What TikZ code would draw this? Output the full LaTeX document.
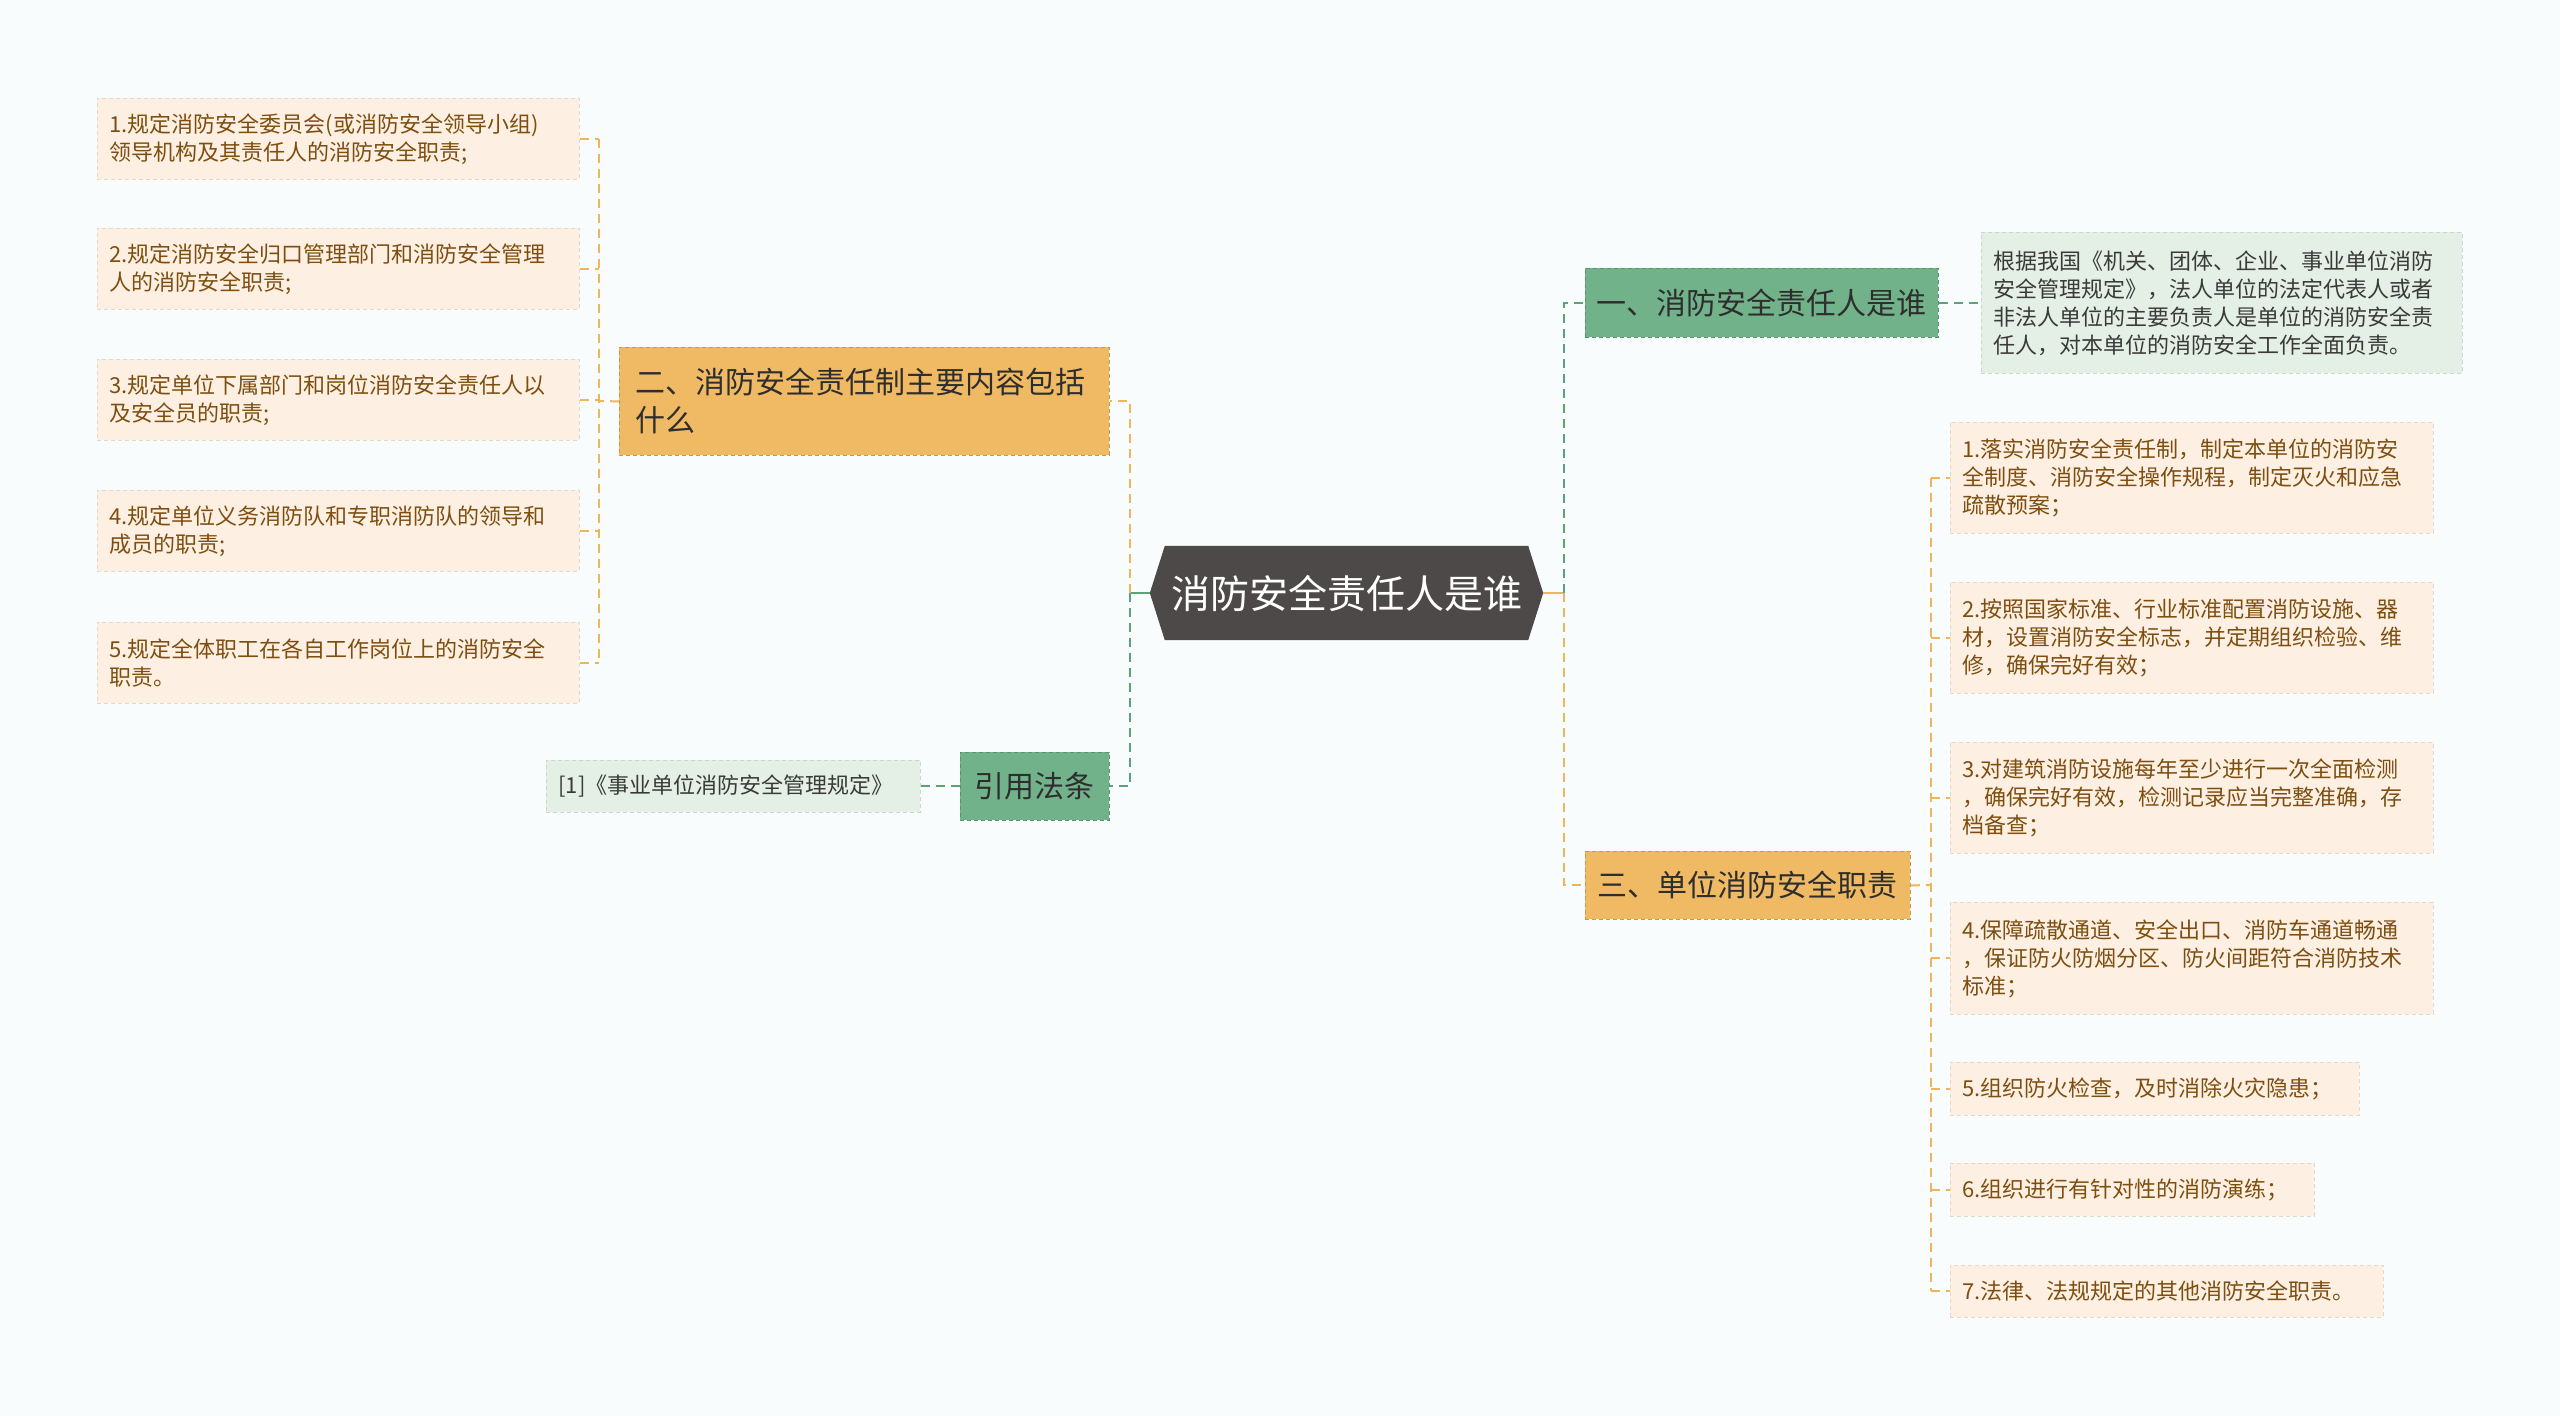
\documentclass[tikz,border=0pt]{standalone}
\usepackage{fontspec}
\setmainfont{Noto Sans CJK SC}
\usepackage{tikz}
\usetikzlibrary{backgrounds}

\definecolor{pagebg}{HTML}{F8FCFD}
\definecolor{hexgray}{HTML}{4E4949}
\definecolor{topicorange}{HTML}{EFBA63}
\definecolor{topicgreen}{HTML}{72B28A}
\definecolor{topictext}{HTML}{2E2E2E}
\definecolor{leafpeach}{HTML}{FDF0E2}
\definecolor{leafgreen}{HTML}{E4EFE6}
\definecolor{leafbrown}{HTML}{7D4E10}
\definecolor{leafgray}{HTML}{3A3A3A}
\definecolor{linkorange}{HTML}{EDB55C}
\definecolor{linkgreen}{HTML}{5EA279}

\begin{document}
\begin{tikzpicture}[x=1pt, y=-1pt,
  topic/.style={fill=#1, draw=#1!82!black, dash pattern=on 4pt off 3pt, line width=0.8pt,
    text=topictext, font=\fontsize{30}{38}\selectfont, inner sep=0pt, anchor=north west},
  leaf/.style={fill=#1, draw=#1!90!black, dash pattern=on 4pt off 3pt, line width=0.8pt,
    text=leafbrown, font=\fontsize{22}{28}\selectfont, align=left,
    inner xsep=12pt, inner ysep=0pt, anchor=north west},
  link/.style={draw=#1, line width=2pt, dash pattern=on 9pt off 6pt}
]
\useasboundingbox (0,0) rectangle (2560,1416);

\node[text=white, font=\fontsize{39}{44}\selectfont, minimum width=363, minimum height=94, inner sep=0pt]
  (root) at (1346.5,593) {消防安全责任人是谁};

% left side
\node[topic=topicorange, text width=458, align=left, inner xsep=16pt, minimum height=108]
  (b2) at (619,347) {二、消防安全责任制主要内容包括\\什么};
\node[topic=topicgreen, minimum width=149, minimum height=68] (cite) at (960,752) {引用法条};
\node[leaf=leafgreen, text=leafgray, text width=350, minimum height=52] (ref) at (546,760)
  {[1]《事业单位消防安全管理规定》};

\node[leaf=leafpeach, text width=458, minimum height=81] (l1) at (97,98)
  {1.规定消防安全委员会(或消防安全领导小组)\\领导机构及其责任人的消防安全职责;};
\node[leaf=leafpeach, text width=458, minimum height=81] (l2) at (97,228)
  {2.规定消防安全归口管理部门和消防安全管理\\人的消防安全职责;};
\node[leaf=leafpeach, text width=458, minimum height=81] (l3) at (97,359)
  {3.规定单位下属部门和岗位消防安全责任人以\\及安全员的职责;};
\node[leaf=leafpeach, text width=458, minimum height=81] (l4) at (97,490)
  {4.规定单位义务消防队和专职消防队的领导和\\成员的职责;};
\node[leaf=leafpeach, text width=458, minimum height=81] (l5) at (97,622)
  {5.规定全体职工在各自工作岗位上的消防安全\\职责。};

% right side
\node[topic=topicgreen, minimum width=353, minimum height=69] (b1) at (1585,268) {一、消防安全责任人是谁};
\node[topic=topicorange, minimum width=325, minimum height=68] (b3) at (1585,851) {三、单位消防安全职责};
\node[leaf=leafgreen, text=leafgray, text width=457, minimum height=141] (g1) at (1981,232)
  {根据我国《机关、团体、企业、事业单位消防\\安全管理规定》，法人单位的法定代表人或者\\非法人单位的主要负责人是单位的消防安全责\\任人，对本单位的消防安全工作全面负责。};

\node[leaf=leafpeach, text width=459, minimum height=111] (r1) at (1950,422)
  {1.落实消防安全责任制，制定本单位的消防安\\全制度、消防安全操作规程，制定灭火和应急\\疏散预案；};
\node[leaf=leafpeach, text width=459, minimum height=111] (r2) at (1950,582)
  {2.按照国家标准、行业标准配置消防设施、器\\材，设置消防安全标志，并定期组织检验、维\\修，确保完好有效；};
\node[leaf=leafpeach, text width=459, minimum height=111] (r3) at (1950,742)
  {3.对建筑消防设施每年至少进行一次全面检测\\，确保完好有效，检测记录应当完整准确，存\\档备查；};
\node[leaf=leafpeach, text width=459, minimum height=112] (r4) at (1950,902)
  {4.保障疏散通道、安全出口、消防车通道畅通\\，保证防火防烟分区、防火间距符合消防技术\\标准；};
\node[leaf=leafpeach, text width=385, minimum height=53] (r5) at (1950,1062)
  {5.组织防火检查，及时消除火灾隐患；};
\node[leaf=leafpeach, text width=340, minimum height=53] (r6) at (1950,1163)
  {6.组织进行有针对性的消防演练；};
\node[leaf=leafpeach, text width=409, minimum height=52] (r7) at (1950,1265)
  {7.法律、法规规定的其他消防安全职责。};

\coordinate (jl) at (599,401);
\coordinate (jc) at (1130,593);
\coordinate (jr) at (1564,593);
\coordinate (jr3) at (1931,885);

\begin{scope}[on background layer]
\fill[pagebg] (0,0) rectangle (2560,1416);
\fill[hexgray] (root.north west) -- (root.north east) -- ([xshift=15pt]root.east)
  -- (root.south east) -- (root.south west) -- ([xshift=-15pt]root.west) -- cycle;
\end{scope}

\draw[link=linkgreen, solid] ([xshift=-15pt]root.west) -- (jc);
\draw[link=linkorange] (jc) |- (b2.east);
\draw[link=linkgreen] (jc) |- (cite.east);
\draw[link=linkgreen] (cite.west) -- (ref.east);
\draw[link=linkorange] (b2.west) -- (jl);
\draw[link=linkorange] (l1.east -| jl) -- (l5.east -| jl);
\foreach \i in {1,...,5}
  \draw[link=linkorange] (l\i.east) -- (l\i.east -| jl);

\draw[link=linkorange, solid] ([xshift=15pt]root.east) -- (jr);
\draw[link=linkgreen] (jr) |- (b1.west);
\draw[link=linkorange] (jr) |- (b3.west);
\draw[link=linkgreen] (b1.east) -- (g1.west);
\draw[link=linkorange] (b3.east) -- (jr3);
\draw[link=linkorange] (r1.west -| jr3) -- (r7.west -| jr3);
\foreach \i in {1,...,7}
  \draw[link=linkorange] (r\i.west -| jr3) -- (r\i.west);
\end{tikzpicture}
\end{document}
